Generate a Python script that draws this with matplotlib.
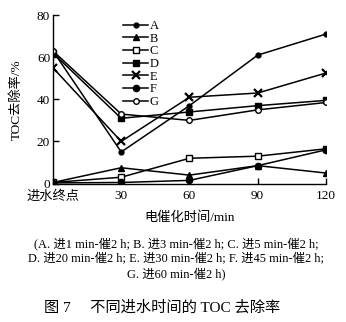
import matplotlib.pyplot as plt

plt.rcParams['font.family'] = ['Liberation Serif', 'Noto Sans CJK SC']
plt.rcParams['axes.unicode_minus'] = False

# 电催化时间 (min), 0 为进水终点
t = [0, 30, 60, 90, 120]
xtick_labels = ['进水终点', '30', '60', '90', '120']

# TOC 去除率 (%)
A = [63, 15, 37, 61, 71]
B = [0.5, 7.5, 4, 8.5, 5]
C = [0.5, 3, 12, 13, 16.5]
D = [62, 31, 34, 37, 39.5]
E = [55, 20, 41, 43, 52.5]
F = [0.3, 0.5, 1.5, 8.5, 16]
G = [63, 33, 30, 35, 38.5]

fig = plt.figure(figsize=(3.46, 3.22), dpi=100)
ax = fig.add_axes([0.153, 0.430, 0.789, 0.523])

kw = dict(color='black', lw=1.1, ms=4)
ax.plot(t, A, marker='o', ms=3.5, label='A', color='black', lw=1.1)
ax.plot(t, B, marker='^', label='B', **kw)
ax.plot(t, C, marker='s', mfc='white', label='C', **kw)
ax.plot(t, D, marker='s', label='D', **kw)
ax.plot(t, E, marker='x', mew=1.6, ms=6, label='E', color='black', lw=1.1)
ax.plot(t, F, marker='o', ms=4.5, label='F', color='black', lw=1.1)
ax.plot(t, G, marker='o', mfc='white', label='G', **kw)

ax.set_xlim(0, 120)
ax.set_ylim(0, 80)
ax.set_xticks(t)
ax.set_xticklabels(xtick_labels)
ax.set_yticks([0, 20, 40, 60, 80])
for s in ['top', 'right']:
    ax.spines[s].set_visible(False)
ax.spines['left'].set_linewidth(1.0)
ax.spines['bottom'].set_linewidth(1.0)
ax.tick_params(direction='in', length=4, width=1.0, labelsize=9.5)
ax.tick_params(axis='x', pad=5)
ax.tick_params(axis='y', pad=2)

ax.set_ylabel('TOC去除率/%', fontsize=9.5, labelpad=10)
ax.set_xlabel('电催化时间/min', fontsize=9.5, labelpad=6)

ax.legend(loc='upper left', bbox_to_anchor=(0.24, 1.0), frameon=False,
          fontsize=9, handlelength=2.0, handletextpad=0.1,
          labelspacing=0.05, borderaxespad=0)

caption = ('(A. 进1 min-催2 h; B. 进3 min-催2 h; C. 进5 min-催2 h;\n'
           'D. 进20 min-催2 h; E. 进30 min-催2 h; F. 进45 min-催2 h;\n'
           'G. 进60 min-催2 h)')
fig.text(0.51, 0.196, caption, ha='center', va='center', fontsize=8.9,
         linespacing=1.3)
fig.text(0.47, 0.044, '图 7     不同进水时间的 TOC 去除率', ha='center',
         va='center', fontsize=11)

fig.savefig('out.png', dpi=100)
